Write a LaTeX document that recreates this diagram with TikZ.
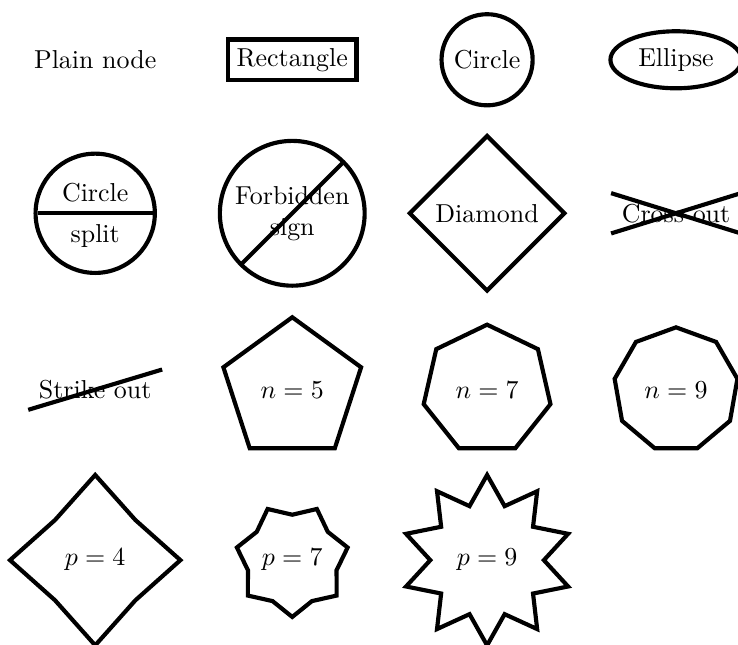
\documentclass[tikz,border=0pt]{standalone}
\usetikzlibrary{shapes.geometric,shapes.misc,shapes.symbols,shapes.multipart}
\tikzset{
  outl/.style={draw, ultra thick},
  poly/.style={outl, regular polygon, inner sep=3.8pt},
  starry/.style={outl, star, inner sep=3.8pt},
}

\begin{document}
\begin{tikzpicture}
  \useasboundingbox (0,0) rectangle (10,-8.727);
  % first row
  \node (plain) at (1.29,-0.81) {Plain node};
  \node[outl, rectangle] (rect) at (3.96,-0.81) {Rectangle};
  \node[outl, circle] (circ) at (6.60,-0.81) {Circle};
  \node[outl, ellipse] (ell) at (9.16,-0.81) {Ellipse};
  % second row
  \node[outl, circle split] (split) at (1.29,-2.89) {Circle \nodepart{lower} split};
  \node[outl, forbidden sign, align=center, inner sep=2.6pt] (forb) at (3.96,-2.89) {Forbidden\\sign};
  \node[outl, diamond] (diam) at (6.60,-2.89) {Diamond};
  \node[outl, cross out] (cross) at (9.16,-2.89) {Cross out};
  % third row
  \node[outl, strike out] (strike) at (1.29,-5.28) {Strike out};
  \node[poly, regular polygon sides=5] (pent) at (3.96,-5.28) {$n=5$};
  \node[poly, regular polygon sides=7] (hept) at (6.60,-5.28) {$n=7$};
  \node[poly, regular polygon sides=9] (nona) at (9.16,-5.28) {$n=9$};
  % fourth row
  \node[starry, star points=4] (star4) at (1.29,-7.59) {$p=4$};
  \node[starry, star points=7, star point ratio=0.8] (star7) at (3.96,-7.59) {$p=7$};
  \node[starry, star points=10] (star9) at (6.60,-7.59) {$p=9$};
\end{tikzpicture}
\end{document}
